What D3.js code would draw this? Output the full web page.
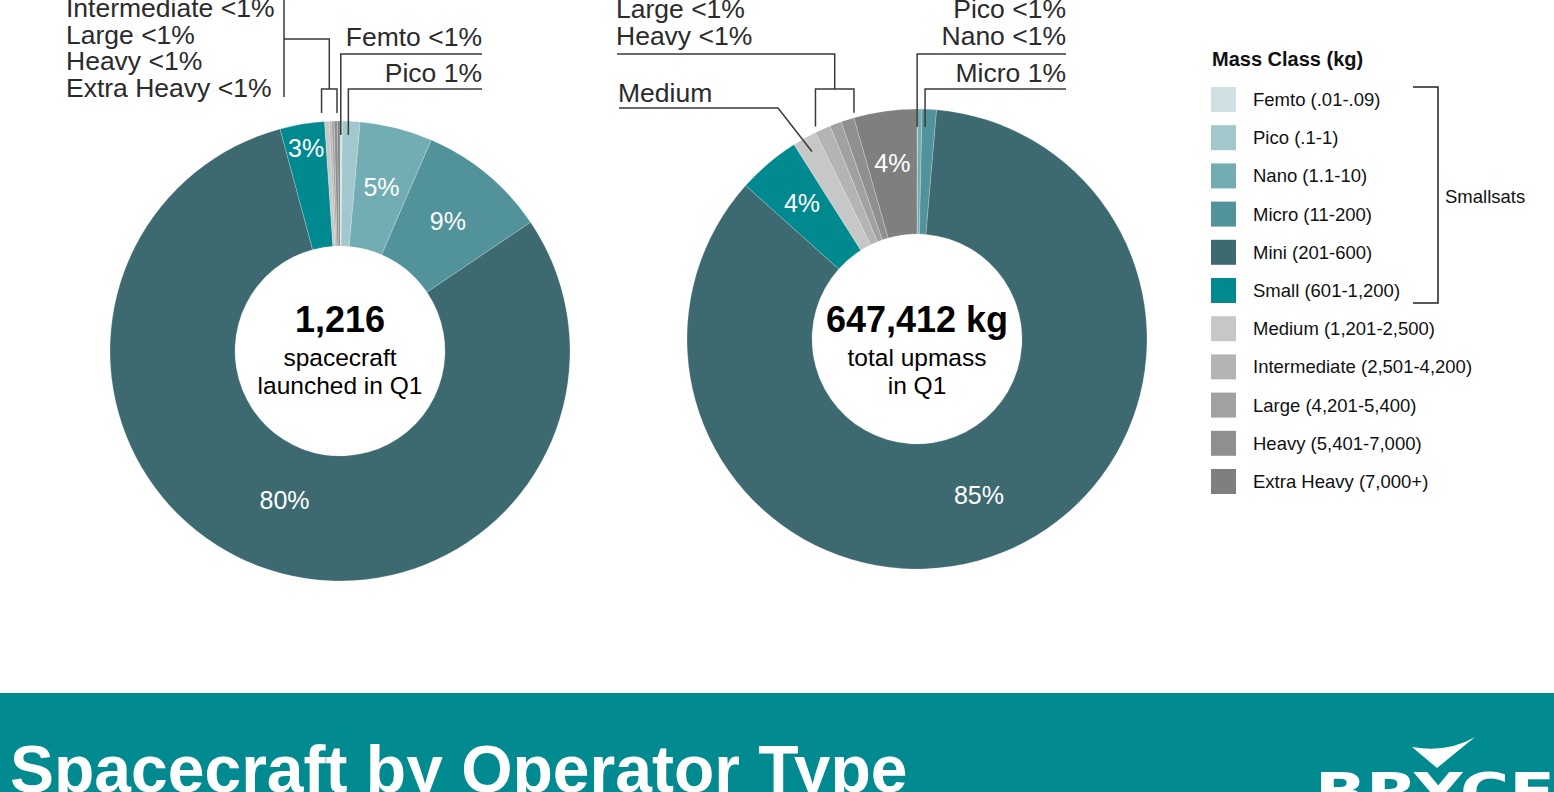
<!DOCTYPE html>
<html>
<head>
<meta charset="utf-8">
<script src="https://cdn.jsdelivr.net/npm/d3@7"></script>
<style>
  body { margin: 0; background: #fff; }
  svg { display: block; }
  text { font-family: "Liberation Sans", Arial, Helvetica, sans-serif; }
</style>
</head>
<body>
<script>
// mass classes, clockwise from 12 o'clock
var classes = ["Femto", "Pico", "Nano", "Micro", "Mini", "Small", "Medium", "Intermediate", "Large", "Heavy", "Extra Heavy"];
var ranges = ["(.01-.09)", "(.1-1)", "(1.1-10)", "(11-200)", "(201-600)", "(601-1,200)", "(1,201-2,500)", "(2,501-4,200)", "(4,201-5,400)", "(5,401-7,000)", "(7,000+)"];
var colors = ["#d0e1e4", "#a2c7cd", "#72adb4", "#52929b", "#3d6a71", "#008a90", "#c6c7c7", "#b3b4b4", "#a1a1a1", "#8f8f8f", "#7f7f7f"];

// spacecraft counts (left) and upmass in kg (right)
var countValues = [2, 15, 62, 110, 976, 38, 4, 2, 2, 3, 2];
var massValues = [1, 200, 2100, 6500, 552000, 28500, 11000, 7200, 5300, 6000, 28611];

var W = 1554, H = 792;
var outerR = 230, innerR = 105;

var svg = d3.select("body").append("svg")
    .attr("width", W)
    .attr("height", H);

var pie = d3.pie().sort(null).value(function(d) { return d; });
var arc = d3.arc().innerRadius(innerR).outerRadius(outerR);

function pct(v, total) { return v / total * 100; }
function pctText(p) { return p < 1 ? "<1%" : Math.round(p) + "%"; }

function drawPie(cx, cy, values, labelR, smallLabelR) {
  var total = d3.sum(values);
  var arcs = pie(values);
  var g = svg.append("g").attr("transform", "translate(" + cx + "," + cy + ")");

  g.selectAll("path")
    .data(arcs)
  .enter().append("path")
    .attr("d", arc)
    .attr("fill", function(d, i) { return colors[i]; })
    .attr("stroke", "rgba(255,255,255,0.35)")
    .attr("stroke-width", 0.6);

  g.selectAll("text.pct")
    .data(arcs.filter(function(d) { return pct(d.value, total) >= 2.5; }))
  .enter().append("text")
    .attr("class", "pct")
    .attr("transform", function(d) {
      var a = (d.startAngle + d.endAngle) / 2;
      var p = pct(d.value, total);
      // big slices sit a bit closer in, thin ones further out
      var r = p > 50 ? labelR - 10 : (p < 3.8 ? smallLabelR : labelR);
      return "translate(" + (r * Math.sin(a)) + "," + (-r * Math.cos(a)) + ")";
    })
    .attr("text-anchor", "middle")
    .attr("dominant-baseline", "central")
    .attr("fill", "#fff")
    .style("font-size", "25px")
    .text(function(d) { return pctText(pct(d.value, total)); });

  // helpers for callouts, in page coordinates
  return {
    arcs: arcs,
    total: total,
    x: function(a, r) { return cx + r * Math.sin(a); },
    y: function(a, r) { return cy - r * Math.cos(a); },
    mid: function(i) { return (arcs[i].startAngle + arcs[i].endAngle) / 2; }
  };
}

function line(points) {
  svg.append("path")
    .attr("d", d3.line()(points))
    .attr("fill", "none")
    .attr("stroke", "#3a3a3a")
    .attr("stroke-width", 1.5);
}

function label(x, y, txt, anchor) {
  svg.append("text")
    .attr("x", x)
    .attr("y", y)
    .attr("text-anchor", anchor || "start")
    .attr("fill", "#2b2b2b")
    .style("font-size", "26.5px")
    .text(txt);
}

function centerText(cx, lines) {
  svg.append("text")
    .attr("x", cx).attr("y", 332)
    .attr("text-anchor", "middle")
    .style("font-size", "36px").style("font-weight", "bold")
    .text(lines[0]);
  svg.append("text")
    .attr("x", cx).attr("y", 366)
    .attr("text-anchor", "middle")
    .style("font-size", "24.5px")
    .text(lines[1]);
  svg.append("text")
    .attr("x", cx).attr("y", 394)
    .attr("text-anchor", "middle")
    .style("font-size", "24.5px")
    .text(lines[2]);
}

// ---- left pie: number of spacecraft
var L = drawPie(340, 351, countValues, 169, 206);
centerText(340, [d3.format(",")(d3.sum(countValues)), "spacecraft", "launched in Q1"]);

var anchorR = 150;
// grey classes bracket
var la = L.x(L.arcs[6].startAngle, outerR) - 3, lb = L.x(L.arcs[10].endAngle, outerR) - 3;
var lm = (la + lb) / 2;
line([[la, 113], [la, 89], [lb, 89], [lb, 113]]);
line([[lm, 89], [lm, 39], [284, 39]]);
line([[284, 0], [284, 97]]);
[7, 8, 9, 10].forEach(function(i, k) {
  label(66, 17 + k * 26.7, classes[i] + " " + pctText(pct(countValues[i], L.total)));
});
// femto
var fx = L.x(L.mid(0), anchorR);
line([[fx, 135], [fx, 54], [482, 54]]);
label(482, 46, classes[0] + " " + pctText(pct(countValues[0], L.total)), "end");
// pico
var px = L.x(L.mid(1), anchorR) + 1;
line([[px, 135], [px, 89], [482, 89]]);
label(482, 82, classes[1] + " " + pctText(pct(countValues[1], L.total)), "end");

// ---- right pie: upmass
var R = drawPie(917, 339, massValues, 178, 206);
centerText(917, [d3.format(",")(d3.sum(massValues)) + " kg", "total upmass", "in Q1"]);

var ra = R.x(R.arcs[7].startAngle, outerR), rb = R.x(R.arcs[9].endAngle, outerR);
var rm = (ra + rb) / 2;
line([[ra, R.y(R.arcs[7].startAngle, outerR) - 6], [ra, 89], [rb, 89], [rb, R.y(R.arcs[9].endAngle, outerR) - 5]]);
line([[rm, 89], [rm, 54], [617, 54]]);
[8, 9].forEach(function(i, k) {
  label(616, 18 + k * 27, classes[i] + " " + pctText(pct(massValues[i], R.total)));
});
// medium
var ma = R.mid(6);
line([[619, 108], [778, 108], [R.x(ma, 215), R.y(ma, 215)]]);
label(618, 102, classes[6]);
// pico / nano
var rpx = R.x(R.mid(1), anchorR);
line([[rpx, 127], [rpx, 54], [1066, 54]]);
label(1066, 18, classes[1] + " " + pctText(pct(massValues[1], R.total)), "end");
label(1066, 45, classes[2] + " " + pctText(pct(massValues[2], R.total)), "end");
// micro
var rmx = R.x(R.mid(3), anchorR);
line([[rmx, 127], [rmx, 89], [1066, 89]]);
label(1066, 82, classes[3] + " " + pctText(pct(massValues[3], R.total)), "end");

// ---- legend
var legend = svg.append("g");
legend.append("text")
  .attr("x", 1212).attr("y", 66)
  .style("font-size", "20px").style("font-weight", "bold")
  .attr("fill", "#111")
  .text("Mass Class (kg)");

var item = legend.selectAll("g.item")
  .data(classes)
.enter().append("g")
  .attr("class", "item")
  .attr("transform", function(d, i) { return "translate(1211," + (87 + i * 38.2) + ")"; });
item.append("rect")
  .attr("width", 25).attr("height", 25)
  .attr("fill", function(d, i) { return colors[i]; });
item.append("text")
  .attr("x", 42).attr("y", 12.5)
  .attr("dominant-baseline", "central")
  .attr("fill", "#111")
  .style("font-size", "18.5px")
  .text(function(d, i) { return d + " " + ranges[i]; });

legend.append("path")
  .attr("d", "M1413,87H1438V303H1413")
  .attr("fill", "none")
  .attr("stroke", "#222")
  .attr("stroke-width", 1.5);
legend.append("text")
  .attr("x", 1445).attr("y", 196)
  .attr("dominant-baseline", "central")
  .attr("fill", "#111")
  .style("font-size", "18.5px")
  .text("Smallsats");

// ---- bottom banner
svg.append("rect")
  .attr("x", 0).attr("y", 693)
  .attr("width", W).attr("height", H - 693)
  .attr("fill", "#028a91");
svg.append("text")
  .attr("x", 10).attr("y", 792)
  .attr("fill", "#fff")
  .style("font-size", "66px").style("font-weight", "bold")
  .text("Spacecraft by Operator Type");

// logo
svg.append("path")
  .attr("d", "M1412,747 L1437,768 L1475,737 Q1448,753 1412,747 Z")
  .attr("fill", "#fff");
svg.append("text")
  .attr("x", 1315).attr("y", 810)
  .attr("fill", "#fff")
  .attr("textLength", 240)
  .attr("lengthAdjust", "spacingAndGlyphs")
  .style("font-family", "'DejaVu Sans', sans-serif")
  .style("font-size", "52px").style("font-weight", "bold")
  .text("BRYCE");
</script>
</body>
</html>
